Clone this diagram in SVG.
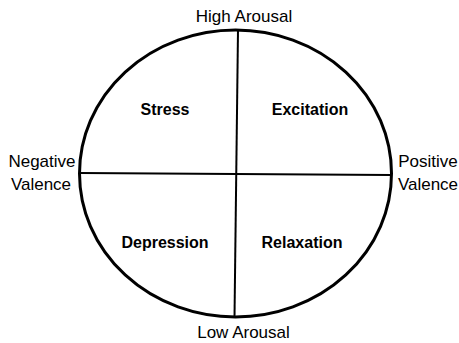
<svg xmlns="http://www.w3.org/2000/svg" width="459" height="343" viewBox="0 0 459 343">
<style>
.lbl{font-family:"Liberation Sans",Arial,sans-serif;font-size:17px;fill:#000;text-anchor:middle}
.q{font-family:"Liberation Sans",Arial,sans-serif;font-size:16px;font-weight:bold;fill:#000;text-anchor:middle}
.ln{stroke:#000;stroke-width:2;fill:none}
</style>
<rect width="459" height="343" fill="#fff"/>
<g id="circle"><ellipse cx="235.5" cy="173.5" rx="156" ry="143.5" fill="none" stroke="#000" stroke-width="3"/></g>
<g id="connectors">
<line class="ln" x1="238" y1="30" x2="234.5" y2="317"/>
<line class="ln" x1="80" y1="173" x2="391" y2="175"/>
</g>
<g id="high"><text class="lbl" x="244" y="22">High Arousal</text></g>
<g id="low"><text class="lbl" x="243.5" y="338">Low Arousal</text></g>
<g id="neg"><text class="lbl" x="42" y="167">Negative</text><text class="lbl" x="41" y="190">Valence</text></g>
<g id="pos"><text class="lbl" x="428" y="167">Positive</text><text class="lbl" x="428" y="190">Valence</text></g>
<g id="stress"><text class="q" x="165" y="115">Stress</text></g>
<g id="excitation"><text class="q" x="310" y="115">Excitation</text></g>
<g id="depression"><text class="q" x="165" y="248">Depression</text></g>
<g id="relaxation"><text class="q" x="302" y="248">Relaxation</text></g>
</svg>
